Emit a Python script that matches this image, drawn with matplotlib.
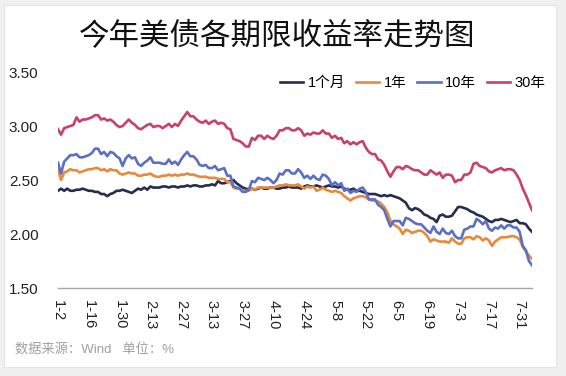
import matplotlib
matplotlib.use('Agg')
import matplotlib.pyplot as plt
from matplotlib.patches import Rectangle
import numpy as np

plt.rcParams['font.family'] = ['Liberation Sans', 'Noto Sans CJK SC']

# 2019-01-02 .. 2019-08-06, every weekday
tick_labels = ['1-2', '1-16', '1-30', '2-13', '2-27', '3-13', '3-27', '4-10',
               '4-24', '5-8', '5-22', '6-5', '6-19', '7-3', '7-17', '7-31']

y_1m = [2.40, 2.42, 2.40, 2.42, 2.40, 2.40, 2.41, 2.41, 2.42, 2.41, 2.40, 2.40, 2.39, 2.39, 2.37, 2.37, 2.35, 2.37, 2.38, 2.40, 2.40, 2.41,
        2.40, 2.39, 2.38, 2.40, 2.42, 2.41, 2.43, 2.41, 2.44, 2.43, 2.43, 2.43, 2.44, 2.44, 2.43, 2.44, 2.44, 2.43, 2.44, 2.44,
        2.45, 2.44, 2.45, 2.45, 2.44, 2.44, 2.45, 2.45, 2.46, 2.45, 2.49, 2.47, 2.47, 2.48, 2.49, 2.50, 2.47, 2.45, 2.43, 2.42, 2.41,
        2.42, 2.41, 2.42, 2.43, 2.42, 2.42, 2.43, 2.43, 2.42, 2.42, 2.43, 2.43, 2.44, 2.43, 2.43, 2.43, 2.42, 2.44, 2.45, 2.44, 2.44, 2.45,
        2.44, 2.43, 2.44, 2.45, 2.44, 2.44, 2.43, 2.44, 2.42, 2.41, 2.41, 2.42, 2.40, 2.40, 2.39, 2.38, 2.37, 2.37, 2.37, 2.36, 2.35, 2.36, 2.35,
        2.36, 2.35, 2.34, 2.33, 2.31, 2.29, 2.24, 2.22, 2.24, 2.23, 2.21, 2.18, 2.17, 2.15, 2.14, 2.11, 2.17, 2.18, 2.16, 2.16,
        2.17, 2.21, 2.25, 2.25, 2.24, 2.23, 2.21, 2.20, 2.18, 2.17, 2.16, 2.14, 2.12, 2.11, 2.13, 2.13, 2.14, 2.13, 2.12, 2.11, 2.12, 2.13, 2.10,
        2.10, 2.09, 2.05, 2.02]

y_1y = [2.60, 2.50, 2.57, 2.58, 2.60, 2.59, 2.59, 2.57, 2.58, 2.59, 2.60, 2.60, 2.61, 2.61, 2.59, 2.60, 2.58, 2.60, 2.59, 2.59, 2.56, 2.55,
        2.56, 2.57, 2.56, 2.56, 2.54, 2.54, 2.55, 2.55, 2.56, 2.54, 2.53, 2.53, 2.54, 2.54, 2.55, 2.54, 2.55, 2.54, 2.55, 2.55,
        2.56, 2.55, 2.55, 2.54, 2.53, 2.53, 2.53, 2.52, 2.52, 2.52, 2.51, 2.51, 2.51, 2.48, 2.48, 2.43, 2.42, 2.42, 2.40, 2.40, 2.40,
        2.42, 2.41, 2.43, 2.43, 2.43, 2.43, 2.43, 2.43, 2.44, 2.45, 2.45, 2.46, 2.45, 2.45, 2.45, 2.46, 2.44, 2.42, 2.44, 2.43, 2.44, 2.40,
        2.41, 2.43, 2.41, 2.40, 2.39, 2.40, 2.39, 2.38, 2.35, 2.33, 2.31, 2.33, 2.34, 2.35, 2.35, 2.34, 2.32, 2.31, 2.31, 2.30, 2.28, 2.25, 2.20,
        2.12, 2.09, 2.07, 2.05, 2.00, 2.04, 2.03, 2.01, 2.02, 2.03, 2.03, 2.01, 1.98, 1.93, 1.95, 1.94, 1.93, 1.93, 1.93, 1.92,
        1.96, 1.93, 1.91, 1.91, 1.96, 1.97, 1.97, 1.95, 1.98, 1.97, 1.94, 1.96, 1.94, 1.89, 1.93, 1.95, 1.97, 1.97, 1.97, 1.98, 1.98, 1.97, 1.95,
        1.88, 1.84, 1.80, 1.77]

y_10y = [2.66, 2.56, 2.67, 2.70, 2.73, 2.73, 2.74, 2.71, 2.71, 2.72, 2.73, 2.75, 2.79, 2.79, 2.74, 2.76, 2.72, 2.76, 2.75, 2.72, 2.70, 2.63,
         2.70, 2.73, 2.70, 2.71, 2.65, 2.63, 2.66, 2.68, 2.71, 2.66, 2.66, 2.66, 2.65, 2.65, 2.69, 2.65, 2.67, 2.64, 2.69, 2.73,
         2.76, 2.72, 2.72, 2.69, 2.64, 2.63, 2.64, 2.61, 2.61, 2.63, 2.59, 2.60, 2.61, 2.54, 2.54, 2.44, 2.43, 2.42, 2.39, 2.39, 2.41,
         2.49, 2.48, 2.52, 2.51, 2.50, 2.52, 2.50, 2.47, 2.50, 2.56, 2.55, 2.59, 2.59, 2.56, 2.56, 2.60, 2.57, 2.52, 2.54, 2.51, 2.54, 2.51,
         2.50, 2.55, 2.54, 2.51, 2.45, 2.48, 2.45, 2.47, 2.40, 2.42, 2.38, 2.40, 2.39, 2.42, 2.43, 2.39, 2.32, 2.32, 2.32, 2.27, 2.25, 2.22, 2.14,
         2.07, 2.12, 2.12, 2.12, 2.08, 2.15, 2.14, 2.12, 2.10, 2.09, 2.09, 2.06, 2.03, 2.01, 2.07, 2.02, 2.00, 2.05, 2.01, 2.00,
         2.03, 1.98, 1.96, 1.96, 2.04, 2.05, 2.07, 2.07, 2.14, 2.12, 2.09, 2.12, 2.05, 2.03, 2.06, 2.05, 2.08, 2.05, 2.08, 2.08, 2.06, 2.06, 2.02,
         1.89, 1.85, 1.75, 1.71]

y_30y = [2.97, 2.92, 2.98, 2.99, 3.00, 3.01, 3.08, 3.04, 3.06, 3.06, 3.07, 3.08, 3.10, 3.10, 3.06, 3.07, 3.05, 3.06, 3.04, 3.01, 2.99, 3.00,
         3.03, 3.06, 3.03, 3.01, 2.98, 2.97, 2.99, 3.01, 3.02, 2.99, 3.00, 3.00, 2.98, 3.00, 3.02, 2.99, 3.02, 3.00, 3.05, 3.09,
         3.13, 3.09, 3.09, 3.06, 3.04, 3.03, 3.05, 3.02, 3.04, 3.05, 3.02, 3.03, 3.02, 2.98, 2.97, 2.88, 2.87, 2.86, 2.84, 2.81, 2.81,
         2.89, 2.87, 2.91, 2.91, 2.88, 2.91, 2.89, 2.88, 2.91, 2.96, 2.96, 2.98, 2.98, 2.96, 2.96, 2.98, 2.96, 2.91, 2.93, 2.92, 2.94, 2.93,
         2.93, 2.96, 2.93, 2.93, 2.89, 2.91, 2.88, 2.89, 2.84, 2.86, 2.83, 2.85, 2.83, 2.85, 2.86, 2.80, 2.76, 2.74, 2.74, 2.69, 2.68, 2.64, 2.58,
         2.53, 2.58, 2.62, 2.62, 2.60, 2.63, 2.62, 2.60, 2.59, 2.59, 2.57, 2.55, 2.55, 2.59, 2.57, 2.55, 2.57, 2.52, 2.55, 2.55,
         2.54, 2.48, 2.50, 2.50, 2.55, 2.55, 2.57, 2.65, 2.66, 2.63, 2.62, 2.61, 2.58, 2.57, 2.59, 2.60, 2.61, 2.59, 2.60, 2.60, 2.59, 2.55, 2.50,
         2.42, 2.36, 2.29, 2.22]

series = [('1个月', y_1m, '#262d4d'),
          ('1年', y_1y, '#e8893c'),
          ('10年', y_10y, '#5b6fc4'),
          ('30年', y_30y, '#c8416a')]

fig = plt.figure(figsize=(5.66, 3.76), dpi=100)
fig.patch.set_facecolor('#f0f0f0')
card = Rectangle((4 / 566, 1 - 367 / 376), 552 / 566, 362 / 376,
                 transform=fig.transFigure, facecolor='white',
                 edgecolor='#e4e4e4', linewidth=0.8, zorder=-10)
fig.patches.append(card)

ax = fig.add_axes([58 / 566, 1 - 288 / 376, 474 / 566, 216 / 376])
ax.set_facecolor('none')
ax.set_zorder(5)

x = np.arange(len(y_1m))
for name, ys, col in series:
    ax.plot(x, ys, color=col, lw=1.9, label=name)

ax.set_xlim(0, len(x) - 1)
ax.set_ylim(1.5, 3.5)
ax.set_yticks([1.5, 2.0, 2.5, 3.0, 3.5])
ax.set_yticklabels(['1.50', '2.00', '2.50', '3.00', '3.50'])
ax.set_xticks(np.arange(0, len(x), 10)[:len(tick_labels)])
ax.set_xticklabels(tick_labels, rotation=270, ha='center', va='top')
ax.tick_params(axis='y', length=0, pad=14, labelsize=11, labelcolor='#222222')
ax.tick_params(axis='x', length=0, pad=9, labelsize=10.5, labelcolor='#222222')
for s in ['top', 'right', 'left']:
    ax.spines[s].set_visible(False)
ax.spines['bottom'].set_color('#a6a6a6')
ax.spines['bottom'].set_linewidth(1.0)

fig.text(277 / 566, 1 - 36 / 376, '今年美债各期限收益率走势图', ha='center', va='center',
         fontsize=22, family=['Noto Sans CJK SC'], color='#111111')

fig.legend(loc='center left', bbox_to_anchor=(280 / 566, 1 - 83 / 376), ncol=4,
           frameon=False, fontsize=10.5, handlelength=1.6, handletextpad=0.3,
           columnspacing=0.75, borderpad=0, borderaxespad=0)

fig.text(15 / 566, 1 - 349 / 376, '数据来源：Wind   单位：%', ha='left', va='center',
         fontsize=9.5, color='#a0a0a0')

fig.savefig('out.png', dpi=100)
